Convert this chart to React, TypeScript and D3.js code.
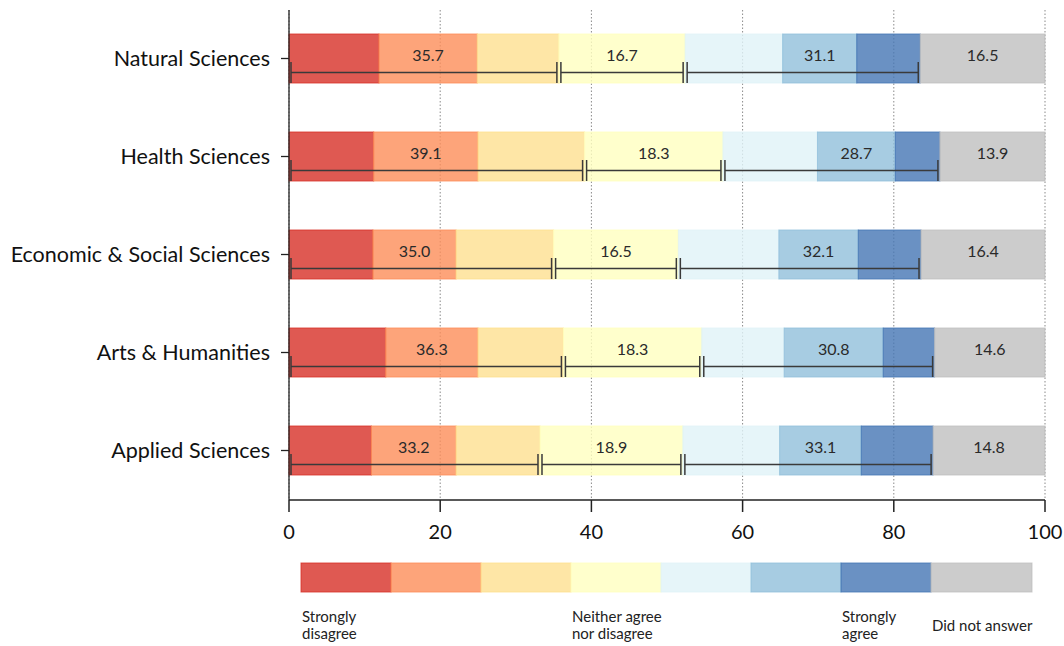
import React from "react";
import * as d3 from "d3";

const categories = [
  "Natural Sciences",
  "Health Sciences",
  "Economic & Social Sciences",
  "Arts & Humanities",
  "Applied Sciences",
];
const stronglyDisagree = [11.9, 11.2, 11.1, 12.8, 10.9];
const disagree = [13.0, 13.8, 11.0, 12.2, 11.2];
const slightlyDisagree = [10.8, 14.1, 12.9, 11.3, 11.1];
const neutral = [16.7, 18.3, 16.5, 18.3, 18.9];
const slightlyAgree = [12.9, 12.5, 13.3, 10.9, 12.8];
const agree = [9.8, 10.3, 10.5, 13.1, 10.8];
const stronglyAgree = [8.4, 5.9, 8.3, 6.8, 9.5];
const noAnswer = [16.5, 13.9, 16.4, 14.6, 14.8];

const seriesKeys = ["sd", "d", "sld", "n", "sla", "a", "sa", "na"];
const seriesValues = [
  stronglyDisagree,
  disagree,
  slightlyDisagree,
  neutral,
  slightlyAgree,
  agree,
  stronglyAgree,
  noAnswer,
];
const colors = [
  "#d73027",
  "#fc8d59",
  "#fee090",
  "#ffffbf",
  "#e0f3f8",
  "#91bfdb",
  "#4575b4",
  "#bfbfbf",
];
const xTicks = [0, 20, 40, 60, 80, 100];
const legendLabels: { idx: number; lines: string[] }[] = [
  { idx: 0, lines: ["Strongly", "disagree"] },
  { idx: 3, lines: ["Neither agree", "nor disagree"] },
  { idx: 6, lines: ["Strongly", "agree"] },
  { idx: 7, lines: ["Did not answer"] },
];

const FONT = "Lato, 'Open Sans', sans-serif";

export default function App() {
  const W = 1064;
  const H = 646;
  const x = d3.scaleLinear().domain([0, 100]).range([289, 1045]);
  const y = d3
    .scaleBand<string>()
    .domain(categories)
    .range([9.5, 499.5])
    .paddingInner(0.5)
    .paddingOuter(0.25);
  const axisY = 500;

  const rows = categories.map((c, i) => {
    const r: any = { cat: c };
    seriesKeys.forEach((k, j) => (r[k] = seriesValues[j][i]));
    return r;
  });
  const stack = d3.stack<any>().keys(seriesKeys)(rows);

  const legendX = d3.scaleBand<string>().domain(seriesKeys).range([301, 1021]);
  const fmt = d3.format(".1f");

  return (
    <svg
      width={W}
      height={H}
      style={{ position: "absolute", left: 0, top: 0, background: "#fff" }}
      fontFamily={FONT}
    >
      {/* gridlines */}
      {xTicks.map((t) => (
        <line
          key={"g" + t}
          x1={x(t)}
          x2={x(t)}
          y1={10}
          y2={axisY}
          stroke="#8a8a8a"
          strokeWidth={1}
          strokeDasharray="1.5,2"
        />
      ))}
      {/* bars */}
      {stack.map((s, j) => (
        <g key={s.key}>
          {s.map((d, i) => (
            <rect
              key={i}
              x={x(d[0])}
              y={y(categories[i])!}
              width={x(d[1]) - x(d[0])}
              height={y.bandwidth()}
              fill={colors[j]}
              fillOpacity={0.8}
              stroke={colors[j]}
              strokeOpacity={0.8}
              strokeWidth={1}
            />
          ))}
        </g>
      ))}
      {/* whiskers and labels */}
      {categories.map((c, i) => {
        const cy = y(c)! + y.bandwidth() / 2;
        const dis = stronglyDisagree[i] + disagree[i] + slightlyDisagree[i];
        const neu = neutral[i];
        const agr = slightlyAgree[i] + agree[i] + stronglyAgree[i];
        const groups = [
          [0, dis],
          [dis, dis + neu],
          [dis + neu, dis + neu + agr],
        ];
        const wy = cy + 14;
        const labels = [
          { v: dis, seg: 1 },
          { v: neu, seg: 3 },
          { v: agr, seg: 5 },
          { v: noAnswer[i], seg: 7 },
        ];
        return (
          <g key={c}>
            {groups.map(([a, b], k) => {
              const xa = x(a) + 2;
              const xb = x(b) - 2;
              return (
                <g key={k} stroke="#3a3a3a" strokeWidth={1.5}>
                  <line x1={xa} x2={xb} y1={wy} y2={wy} />
                  <line x1={xa} x2={xa} y1={wy - 10.5} y2={wy + 10.5} />
                  <line x1={xb} x2={xb} y1={wy - 10.5} y2={wy + 10.5} />
                </g>
              );
            })}
            {labels.map((l, k) => {
              const seg = stack[l.seg][i];
              return (
                <text
                  key={"l" + k}
                  x={(x(seg[0]) + x(seg[1])) / 2}
                  y={cy - 3.5}
                  dy="0.35em"
                  textAnchor="middle"
                  fontSize={16}
                  fill="#2a2a2a"
                >
                  {fmt(l.v)}
                </text>
              );
            })}
          </g>
        );
      })}
      {/* y axis */}
      <line x1={289} x2={289} y1={10} y2={axisY} stroke="#222" strokeWidth={1.3} />
      {categories.map((c) => {
        const cy = y(c)! + y.bandwidth() / 2;
        return (
          <g key={"yt" + c}>
            <line x1={281} x2={289} y1={cy} y2={cy} stroke="#222" strokeWidth={1.3} />
            <text
              x={270}
              y={cy}
              dy="0.35em"
              textAnchor="end"
              fontSize={21.5}
              fill="#111"
            >
              {c}
            </text>
          </g>
        );
      })}
      {/* x axis */}
      <line x1={289} x2={1045} y1={axisY} y2={axisY} stroke="#222" strokeWidth={1.3} />
      {xTicks.map((t) => (
        <g key={"xt" + t}>
          <line x1={x(t)} x2={x(t)} y1={axisY} y2={axisY + 12} stroke="#222" strokeWidth={1.5} />
          <text x={x(t)} y={539} textAnchor="middle" fontSize={20} fill="#111">
            {t}
          </text>
        </g>
      ))}
      {/* legend */}
      {seriesKeys.map((k, j) => (
        <rect
          key={"lg" + k}
          x={legendX(k)!}
          y={563}
          width={legendX.bandwidth() + (j === seriesKeys.length - 1 ? 11 : 0)}
          height={29}
          fill={colors[j]}
          fillOpacity={0.8}
          stroke={colors[j]}
          strokeOpacity={0.8}
          strokeWidth={1}
        />
      ))}
      {legendLabels.map((l) => {
        const lx = legendX(seriesKeys[l.idx])! + 1;
        const baseY = l.lines.length === 1 ? 631 : 622;
        return (
          <g key={"ll" + l.idx}>
            {l.lines.map((ln, m) => (
              <text key={m} x={lx} y={baseY + m * 16.5} fontSize={15} fill="#222">
                {ln}
              </text>
            ))}
          </g>
        );
      })}
    </svg>
  );
}
